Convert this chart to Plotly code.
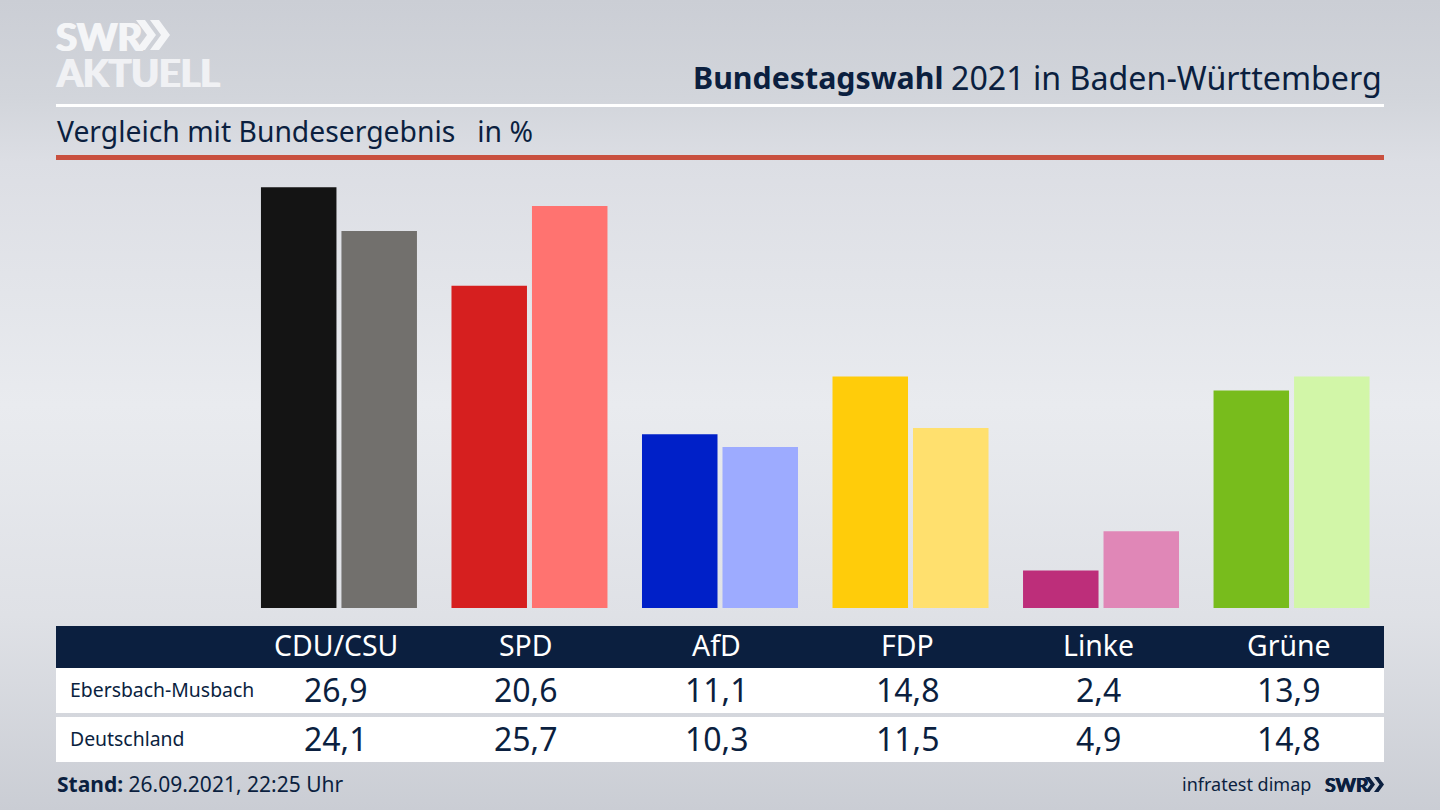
"""Bundestagswahl 2021: Ebersbach-Musbach compared with the federal result."""
import plotly.graph_objects as go

parties = ["CDU/CSU", "SPD", "AfD", "FDP", "Linke", "Grüne"]
ebersbach = [26.9, 20.6, 11.1, 14.8, 2.4, 13.9]
deutschland = [24.1, 25.7, 10.3, 11.5, 4.9, 14.8]
colors_local = ["#141414", "#d61f1f", "#0020c8", "#ffcc0a", "#bd2e7a", "#78bc1c"]
colors_federal = ["#72706d", "#ff7370", "#9dabff", "#ffe06e", "#e087b7", "#d2f6a8"]

NAVY = "#0b1f3f"
FONT = "Noto Sans"
W, H = 1440, 810


def px(x):
    return x / W


def py(y):
    return 1 - y / H


def rect(x0, y0, x1, y1, color):
    return dict(type="rect", xref="paper", yref="paper", x0=px(x0), x1=px(x1),
                y0=py(y1), y1=py(y0), fillcolor=color, line_width=0, layer="below")


def chevron(x, y_top, y_bottom, width, color):
    # one logo arrow head, drawn in paper coordinates
    mid = (y_top + y_bottom) / 2
    points = [(x, y_top), (x + width * 0.45, y_top), (x + width, mid),
              (x + width * 0.45, y_bottom), (x, y_bottom), (x + width * 0.55, mid)]
    path = "M " + " L ".join(f"{px(a):.5f} {py(b):.5f}" for a, b in points) + " Z"
    return dict(type="path", xref="paper", yref="paper", path=path,
                fillcolor=color, line_width=0, layer="above")


def label(x, y, text, size, color=NAVY, anchor="left", family=FONT, shadow=None):
    font = dict(family=family, size=size, color=color)
    if shadow:
        # thickens the logo lettering without making it wider
        font["shadow"] = f"{shadow}px 0 0 {color}, -{shadow}px 0 0 {color}"
    return dict(xref="paper", yref="paper", x=px(x), y=py(y), text=text, showarrow=False,
                xanchor=anchor, yanchor="middle", font=font)


def cell(party, y, text, size, color=NAVY):
    return dict(xref="x", yref="paper", x=party, xshift=-3, y=py(y), text=text, showarrow=False,
                xanchor="center", yanchor="middle", font=dict(family=FONT, size=size, color=color))


def fmt(v):
    return f"{v:.1f}".replace(".", ",")


fig = go.Figure()
fig.add_trace(go.Bar(x=parties, y=ebersbach, name="Ebersbach-Musbach",
                     marker=dict(color=colors_local, line_width=0)))
fig.add_trace(go.Bar(x=parties, y=deutschland, name="Deutschland",
                     marker=dict(color=colors_federal, line_width=0)))

shapes = [
    rect(56, 104, 1384, 107, "#ffffff"),
    rect(56, 155, 1384, 160, "#c9503f"),
    rect(56, 626, 1384, 668, NAVY),
    rect(56, 668, 1384, 713, "#ffffff"),
    rect(56, 717, 1384, 762, "#ffffff"),
    chevron(136, 20, 50, 20, "#f4f5f7"),
    chevron(150, 20, 50, 20, "#f4f5f7"),
    chevron(1365, 777, 792, 10, NAVY),
    chevron(1374, 777, 792, 10, NAVY),
]

annotations = [
    label(54, 36, "<b>SWR</b>", 38.5, "#f4f5f7", family="Lato", shadow=1),
    label(54, 72, "<b>AKTUELL</b>", 37.5, "#f0f1f4", family="Lato", shadow=1),
    label(945, 77, "<b>Bundestagswahl</b>", 30.3, anchor="right"),
    label(1384, 77, "2021 in Baden-Württemberg", 32.2, anchor="right"),
    label(55, 131, "Vergleich mit Bundesergebnis   in %", 28.3),
    label(68, 689, "Ebersbach-Musbach", 19.4),
    label(68, 738, "Deutschland", 19.4),
    label(55, 784, "<b>Stand:</b> 26.09.2021, 22:25 Uhr", 21),
    label(1313, 784, "infratest dimap", 18, anchor="right"),
    label(1323, 784, "<b>SWR</b>", 19.5, family="Lato", shadow=0.5),
]
for party, a, b in zip(parties, ebersbach, deutschland):
    annotations.append(cell(party, 645, party, 28.4, "#ffffff"))
    annotations.append(cell(party, 689, fmt(a), 32))
    annotations.append(cell(party, 738, fmt(b), 32))

fig.update_layout(
    width=W,
    height=H,
    margin=dict(l=0, r=0, t=0, b=0),
    paper_bgcolor="rgba(0,0,0,0)",
    plot_bgcolor="rgba(0,0,0,0)",
    showlegend=False,
    barmode="group",
    bargap=0.155,
    bargroupgap=0.062,
    xaxis=dict(domain=[px(243.7), px(1386.8)], range=[-0.5, 5.5], visible=False),
    yaxis=dict(domain=[py(608), py(170)], range=[0, 28.0], visible=False),
    shapes=shapes,
    annotations=annotations,
)

page_style = (
    "document.body.style.margin='0';"
    "document.body.style.overflow='hidden';"
    "document.body.style.height='810px';"
    "document.body.style.background='linear-gradient(180deg,#cbced5 0%,#d2d5db 12%,"
    "#dcdee4 20%,#e9ebef 50%,#dfe1e6 76%,#cacdd4 100%)';"
)
fig.write_html("out.html", post_script=page_style, config=dict(displayModeBar=False))
